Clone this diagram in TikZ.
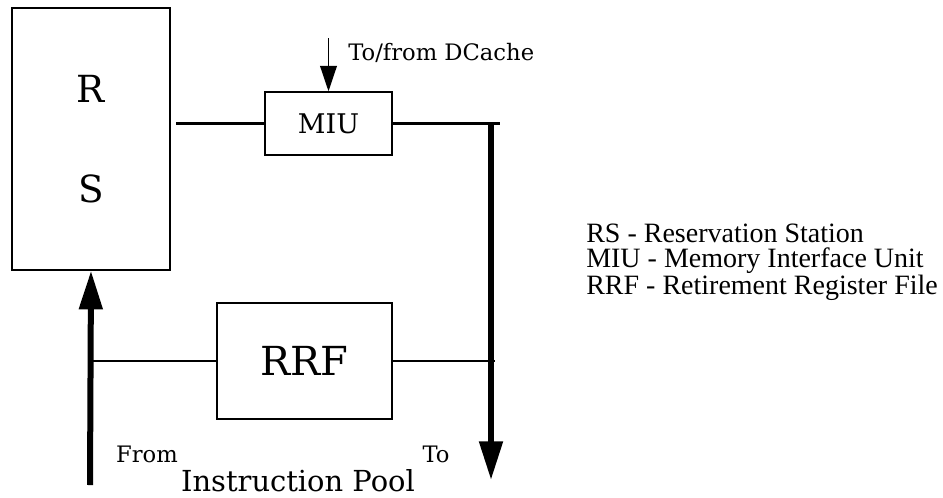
\documentclass[tikz,border=0pt]{standalone}
\usepackage{fontspec}
\usepackage{tikz}
\usetikzlibrary{arrows.meta}
\newfontfamily\legendfont{Liberation Serif}
\newfontfamily\boxfont{DejaVu Serif}

\begin{document}
\begin{tikzpicture}[x=0.75pt,y=-0.75pt]
\tikzset{unitbox/.style={draw,line width=1.1pt,inner sep=0pt},
bus/.style={line width=4.5pt},
wire/.style={line width=1.6pt},
bigtip/.style={-{Triangle[length=29pt,width=17pt]}}}
\useasboundingbox (0,0) rectangle (943,497);
% units
\node[unitbox,minimum width=118.5pt,minimum height=196.5pt,align=center,
  font=\boxfont\fontsize{28}{75}\selectfont] (rs) at (91,139) {R\\S};
\node[unitbox,minimum width=95.25pt,minimum height=47.25pt,
  font=\boxfont\fontsize{20.3}{24}\selectfont] (miu) at (328.5,123.5) {MIU};
\node[unitbox,minimum width=131.25pt,minimum height=87pt,
  font=\boxfont\fontsize{30}{36}\selectfont] (rrf) at (304.5,361) {RRF};
% bus ends
\coordinate (bustop) at (491,123);
\coordinate (busend) at (491,480);
\coordinate (poolin) at (90,485);
\coordinate (dcache) at (328.5,38);
\draw[wire] (miu.west) -- ([xshift=3.75pt]miu.west -| rs.east);
\draw[wire] (miu.east) -- ([xshift=6.75pt]miu.east -| bustop);
\draw[bus,bigtip] (bustop) -- (busend);
\draw[bus,bigtip] (poolin) -- (rs.south);
\draw[wire] (rrf.west) -- (rrf.west -| poolin);
\draw[wire] (rrf.east) -- ([xshift=3pt]rrf.east -| bustop);
\draw[line width=1.1pt,-{Triangle[length=19pt,width=12.5pt]}] (dcache) -- (miu.north);
% labels
\node[anchor=base west,inner sep=0pt,font=\boxfont\fontsize{17}{20}\selectfont] (dcachelbl) at (348,60) {To/from DCache};
\node[anchor=base,inner sep=0pt,font=\boxfont\fontsize{17}{20}\selectfont] (fromlbl) at (147,462) {From};
\node[anchor=base,inner sep=0pt,font=\boxfont\fontsize{17}{20}\selectfont] (tolbl) at (436,462) {To};
\node[anchor=base,inner sep=0pt,font=\boxfont\fontsize{21.7}{26}\selectfont] (poollbl) at (298,491) {Instruction Pool};
\node[anchor=west,inner sep=0pt,align=left,font=\legendfont\fontsize{21}{19}\selectfont] (legend) at (586,262)
  {RS - Reservation Station\\MIU - Memory Interface Unit\\RRF - Retirement Register File};
\end{tikzpicture}
\end{document}
